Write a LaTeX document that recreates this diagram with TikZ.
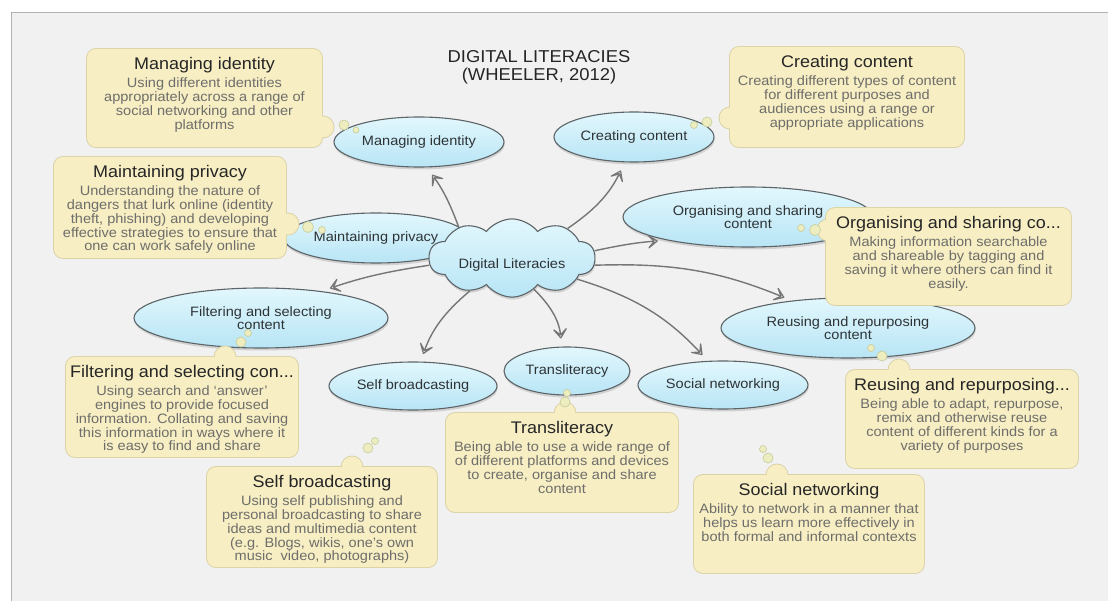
\documentclass[tikz,border=0pt]{standalone}
\usepackage{fontspec}
\setmainfont{Liberation Sans}[FakeStretch=1.07]
\usetikzlibrary{shapes.geometric,shapes.symbols,arrows.meta,shadows}
\definecolor{pagebg}{HTML}{F1F1F1}
\definecolor{frameline}{HTML}{B2B2B2}
\definecolor{boxbg}{HTML}{F7EEC4}
\definecolor{boxline}{HTML}{DAD1A4}
\definecolor{titlecol}{HTML}{262626}
\definecolor{bodycol}{HTML}{6E6E6A}
\definecolor{elltop}{HTML}{E2F7FD}
\definecolor{ellbot}{HTML}{B8E5F5}
\definecolor{ellline}{HTML}{5C6468}
\definecolor{elltext}{HTML}{2E3436}
\definecolor{arrowcol}{HTML}{767676}
\definecolor{dotfill}{HTML}{EDEDC0}
\definecolor{dotline}{HTML}{C8CFA0}
\newcommand\bodyfnt{\fontsize{13.6}{13.8}\selectfont\lineskiplimit=-100pt\relax}
\newcommand\titlefnt{\fontsize{16.8}{18}\selectfont}
\newcommand\ellfnt{\fontsize{13.6}{13.3}\selectfont\lineskiplimit=-100pt\relax}
\newcommand\headfnt{\fontsize{17.2}{18}\selectfont\lineskiplimit=-100pt\relax}
\newcommand\ibox[9]{%
  \draw[bumpedge] (#6,#7) circle[radius=10.5pt];
  \node[boxshape, minimum width={(#4-#2)*1pt}, minimum height={(#5-#3)*1pt}] (#1box) at ({(#2+#4)/2},{(#3+#5)/2}) {};
  \fill[boxbg] (#6,#7) circle[radius=10.5pt];
  \node[boxtitle, anchor=base] (#1title) at ({(#2+#4)/2},{#3+20.5}) {#8};
  \node[boxbody, anchor=north] (#1) at ({(#2+#4)/2},{#3+28.7}) {\strut #9};
}
\begin{document}
\begin{tikzpicture}[x=1pt,y=-1pt,
  ell/.style={ellipse, draw=ellline, line width=1.1pt, top color=elltop, bottom color=ellbot,
    font=\ellfnt, text=elltext, align=center, inner sep=0pt,
    drop shadow={shadow xshift=0.6pt, shadow yshift=-2.5pt, opacity=0.28}},
  arr/.style={draw=arrowcol, line width=1.4pt, -{Stealth[open, round, length=14pt, width=20pt, inset=9pt, line width=1.3pt]}},
  boxshape/.style={rectangle, rounded corners=9pt, fill=boxbg, preaction={draw=boxline, line width=1.8pt}, inner sep=0pt},
  bumpedge/.style={draw=boxline, line width=1.8pt},
  boxtitle/.style={font=\titlefnt, text=titlecol, inner sep=0pt},
  boxbody/.style={font=\bodyfnt, text=bodycol, align=center, inner sep=0pt},
  dotbub/.style={fill=dotfill, draw=dotline, line width=0.7pt}
]
\useasboundingbox (0,0) rectangle (1108,601);
\fill[white] (0,0) rectangle (1108,601);
\fill[pagebg] (11,12) rectangle (1108,601);
\draw[frameline, line width=0.8pt] (11,601) -- (11,12) -- (1108,12);

% title
\node[font=\headfnt, text=titlecol, align=center, inner sep=0pt] (title) at (539,67.5) {DIGITAL LITERACIES\\(WHEELER, 2012)};

% ellipses
\node[ell, minimum width=170pt, minimum height=50pt] (mi) at (419,142) {Managing identity};
\node[ell, minimum width=160pt, minimum height=50pt] (cc) at (634,137) {Creating content};
\node[ell, minimum width=184pt, minimum height=50pt] (mp) at (376,238) {Maintaining privacy};
\node[ell, minimum width=250pt, minimum height=60pt] (os) at (748,217) {Organising and sharing\\content};
\node[ell, minimum width=254pt, minimum height=60pt] (fs) at (261,318) {Filtering and selecting\\content};
\node[ell, minimum width=168pt, minimum height=48pt] (sb) at (413,386) {Self broadcasting};
\node[ell, minimum width=126pt, minimum height=48pt] (tl) at (567,371) {Transliteracy};
\node[ell, minimum width=170pt, minimum height=48pt] (sn) at (723,385) {Social networking};
\node[ell, minimum width=254pt, minimum height=60pt] (rr) at (848,328) {Reusing and repurposing\\content};

% central cloud
\node[ell, cloud, cloud puffs=10, cloud puff arc=105, aspect=2.6, minimum width=166pt, minimum height=60pt] (dl) at (512,258) {\raisebox{-10.5pt}[0pt][0pt]{Digital Literacies}};

% arrows
\draw[arr, shorten >=9pt] (dl.150) to[bend right=8] (mi.287);
\draw[arr, shorten >=9pt] (dl.28) to[bend right=15] (cc.250);
\draw[arr, shorten >=9pt] (dl.5) to[bend left=4] (os.196);
\draw[arr, shorten >=8pt] (dl.355) to[bend left=12] (rr.154);
\draw[arr, shorten >=8pt] (dl.342) to[bend left=15] (sn.122);
\draw[arr, shorten >=8pt] (dl.305) to[bend left=20] (tl.102);
\draw[arr, shorten >=8pt] (dl.218) to[bend right=15] (sb.73);
\draw[arr, shorten >=9pt] (dl.185) to[bend right=5] (fs.24);

% info boxes
\ibox{miT}{87}{49}{322}{147}{323}{127}{Managing identity}{Using different identities\\appropriately across a range of\\social networking and other\\platforms}
\ibox{mpT}{54}{157}{286}{258}{288}{224}{Maintaining privacy}{Understanding the nature of\\dangers that lurk online (identity\\theft, phishing) and developing\\effective strategies to ensure that\\one can work safely online}
\ibox{ccT}{730}{47}{964}{147}{730}{118}{Creating content}{Creating different types of content\\for different purposes and\\audiences using a range or\\appropriate applications}
\ibox{osT}{826}{208}{1071}{305}{828}{230}{Organising and sharing co...}{Making information searchable\\and shareable by tagging and\\saving it where others can find it\\easily.}
\ibox{fsT}{66}{357}{298}{457}{225}{357}{Filtering and selecting con...}{Using search and `answer'\\engines to provide focused\\information. Collating and saving\\this information in ways where it\\is easy to find and share}
\ibox{sbT}{207}{467}{437}{567}{352}{467}{Self broadcasting}{Using self publishing and\\personal broadcasting to share\\ideas and multimedia content\\(e.g. Blogs, wikis, one's own\\music\ \ video, photographs)}
\ibox{tlT}{446}{413}{678}{512}{565}{413}{Transliteracy}{Being able to use a wide range of\\of different platforms and devices\\to create, organise and share\\content}
\ibox{rrT}{846}{370}{1078}{468}{899}{370}{Reusing and repurposing...}{Being able to adapt, repurpose,\\remix and otherwise reuse\\content of different kinds for a\\variety of purposes}
\ibox{snT}{694}{475}{924}{573}{777}{475}{Social networking}{Ability to network in a manner that\\helps us learn more effectively in\\both formal and informal contexts}

% thought-bubble dots
\draw[dotbub] (344,125) circle[radius=5pt];
\draw[dotbub] (356,130) circle[radius=3pt];
\draw[dotbub] (308,227) circle[radius=5.5pt];
\draw[dotbub] (322,230) circle[radius=3.5pt];
\draw[dotbub] (707,122) circle[radius=5pt];
\draw[dotbub] (694,125) circle[radius=3.5pt];
\draw[dotbub] (815,230) circle[radius=5.5pt];
\draw[dotbub] (801,228) circle[radius=3.5pt];
\draw[dotbub] (241,342) circle[radius=5pt];
\draw[dotbub] (248,333) circle[radius=3.5pt];
\draw[dotbub] (368,448) circle[radius=5pt];
\draw[dotbub] (375,441) circle[radius=3.5pt];
\draw[dotbub] (565,402) circle[radius=5pt];
\draw[dotbub] (567,393) circle[radius=3.5pt];
\draw[dotbub] (882,356) circle[radius=5pt];
\draw[dotbub] (871,348) circle[radius=3.5pt];
\draw[dotbub] (768,458) circle[radius=5pt];
\draw[dotbub] (763,449) circle[radius=3.5pt];
\end{tikzpicture}
\end{document}
